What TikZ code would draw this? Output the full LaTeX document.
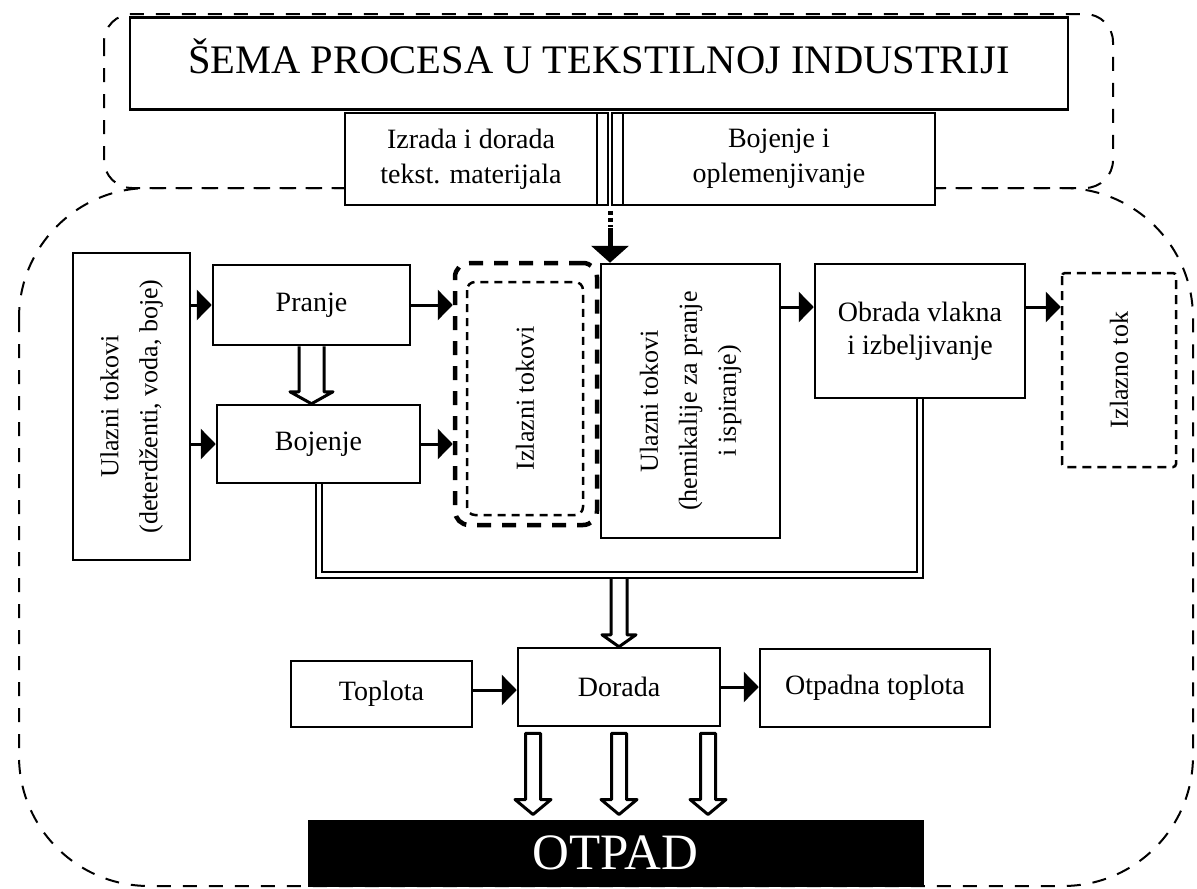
\documentclass[tikz,border=0pt]{standalone}
\usepackage{fontspec}
\setmainfont{Liberation Serif}
\usetikzlibrary{arrows.meta,calc}
\newcommand\mytxt{\fontsize{28}{35}\selectfont}
\newcommand\rottxt{\fontsize{26}{39}\selectfont}
\newcommand\holarr[6]{\draw[hol] let \p1=(#1), \p2=(#2) in (\x1-#3,\y1) -- (\x1-#3,\y2+#5) -- (\x1-#4,\y2+#5) -- (\x1,\y2) -- (\x1+#4,\y2+#5) -- (\x1+#3,\y2+#5) -- (\x1+#3,\y1) #6;}
\begin{document}
\begin{tikzpicture}[x=1pt,y=-1pt,
  box/.style={draw, line width=2.5pt, fill=white, inner sep=0pt, align=center, font=\mytxt},
  rbox/.style={box, rotate=90, font=\rottxt},
  region/.style={draw, line width=2pt, dash pattern=on 14pt off 12pt},
  arr/.style={line width=3pt, -{Triangle[length=15pt,width=30pt]}},
  hol/.style={draw, line width=3pt, fill=white, line join=round},
  dbl/.style={double, double distance=4pt, line width=2pt, line join=miter},
  barbox/.style={draw, line width=1.5pt, fill=white, inner sep=0pt, minimum width=11pt, minimum height=92pt}]
\useasboundingbox (0,0) rectangle (1197,889);
% dashed regions
\draw[region, rounded corners=28pt] (104,14) rectangle (1113,188);
\draw[region, rounded corners=130pt] (19,188) rectangle (1193,886);
% header boxes
\node[box, minimum width=938pt, minimum height=92pt, text height=28pt, text depth=9pt, font=\fontsize{40.5}{46}\selectfont] (title) at (599,63.5) {ŠEMA PROCESA U TEKSTILNOJ INDUSTRIJI};
\node[box, minimum width=252pt, minimum height=92pt] (izrada) at (471,159) {Izrada i dorada\\tekst. materijala};
\node[barbox] (bar1) at (602.5,159) {};
\node[barbox] (bar2) at (617.5,159) {};
\node[box, minimum width=312pt, minimum height=92pt] (bojop) at (779,159) {Bojenje i\\oplemenjivanje};
% main row
\node[rbox, minimum width=307pt, minimum height=117pt] (ulaz1) at (131.5,406.5) {Ulazni tokovi\\(deterdženti, voda, boje)};
\node[box, minimum width=197pt, minimum height=80pt] (pranje) at (311.5,305) {Pranje};
\node[box, minimum width=203pt, minimum height=78pt] (bojenje) at (318.5,444) {Bojenje};
\node[draw, line width=4.5pt, dash pattern=on 14pt off 11pt, rounded corners=14pt, minimum width=142pt, minimum height=262pt, inner sep=0pt] (izlout) at (526,394) {};
\node[draw, line width=2.5pt, dash pattern=on 8pt off 6pt, rounded corners=8pt, rotate=90, minimum width=233pt, minimum height=116pt, inner sep=0pt, font=\rottxt] (izlin) at (525,398.5) {Izlazni tokovi};
\node[rbox, minimum width=274pt, minimum height=179pt] (ulaz2) at (690.5,401) {Ulazni tokovi\\(hemikalije za pranje\\i ispiranje)};
\node[box, minimum width=210pt, minimum height=134pt, font=\fontsize{28}{33}\selectfont] (obrada) at (920,331) {Obrada vlakna\\i izbeljivanje};
\node[draw, line width=2.5pt, dash pattern=on 9pt off 6pt, rounded corners=3pt, rotate=90, minimum width=194pt, minimum height=114pt, inner sep=0pt, font=\rottxt] (izlazno) at (1119,370) {Izlazno tok};
% bottom row
\node[box, minimum width=202pt, minimum height=78pt] (dorada) at (619,687) {Dorada};
\node[box, minimum width=181pt, minimum height=66pt] (toplota) at (381.5,694) {Toplota};
\node[box, minimum width=230pt, minimum height=78pt] (otpadna) at (875,688) {Otpadna toplota};
\node[draw, fill=black, line width=1pt, inner sep=0pt, minimum width=615pt, minimum height=66pt, text=white, font=\fontsize{51}{56}\selectfont] (otpad) at (615.5,853) {OTPAD};
% top arrow between header boxes
\coordinate (mid) at ($(bar1.south east)!0.5!(bar2.south west)$);
\coordinate (tip) at (mid |- ulaz2.east);
\draw[line width=5pt, dash pattern=on 4pt off 3pt] ($(mid)+(0,5)$) -- ($(mid)+(0,21)$);
\draw[line width=5pt, -{Triangle[length=17pt,width=37pt]}] ($(mid)+(0,22)$) -- (tip);
% filled arrows
\draw[arr] (ulaz1.south |- pranje.west) -- (pranje.west);
\draw[arr] (ulaz1.south |- bojenje.west) -- (bojenje.west);
\draw[arr] (pranje.east) -- (izlout.west |- pranje.east);
\draw[arr] (bojenje.east) -- (izlout.west |- bojenje.east);
\coordinate (o1) at ([yshift=24pt]obrada.west);
\coordinate (o2) at ([yshift=24pt]obrada.east);
\draw[arr] (ulaz2.south |- o1) -- (o1);
\draw[arr] (o2) -- (izlazno.north |- o2);
\coordinate (t1) at ([yshift=4pt]toplota.east);
\draw[arr] (t1) -- (dorada.west |- t1);
\draw[arr] (dorada.east) -- (otpadna.west |- dorada.east);
% collecting double line
\coordinate (collect) at (619,575);
\draw[dbl] (bojenje.south) |- (collect) -| (obrada.south);
% hollow arrows
\coordinate (pe) at (pranje.south |- bojenje.north);
\holarr{pranje.south}{pe}{12.5pt}{21.5pt}{12pt}{}
\coordinate (c2) at ([yshift=-4pt]collect);
\holarr{c2}{dorada.north}{8pt}{17pt}{12pt}{}
\coordinate (d1) at ([xshift=-86pt,yshift=-6pt]dorada.south);
\coordinate (d2) at ([yshift=-6pt]dorada.south);
\coordinate (d3) at ([xshift=89pt,yshift=-6pt]dorada.south);
\coordinate (e1) at ($(otpad.north -| d1)+(0,-5)$);
\coordinate (e2) at ($(otpad.north -| d2)+(0,-5)$);
\coordinate (e3) at ($(otpad.north -| d3)+(0,-5)$);
\holarr{d1}{e1}{7.5pt}{18pt}{15pt}{-- cycle}
\holarr{d2}{e2}{7.5pt}{18pt}{15pt}{-- cycle}
\holarr{d3}{e3}{7.5pt}{18pt}{15pt}{-- cycle}
\end{tikzpicture}
\end{document}
